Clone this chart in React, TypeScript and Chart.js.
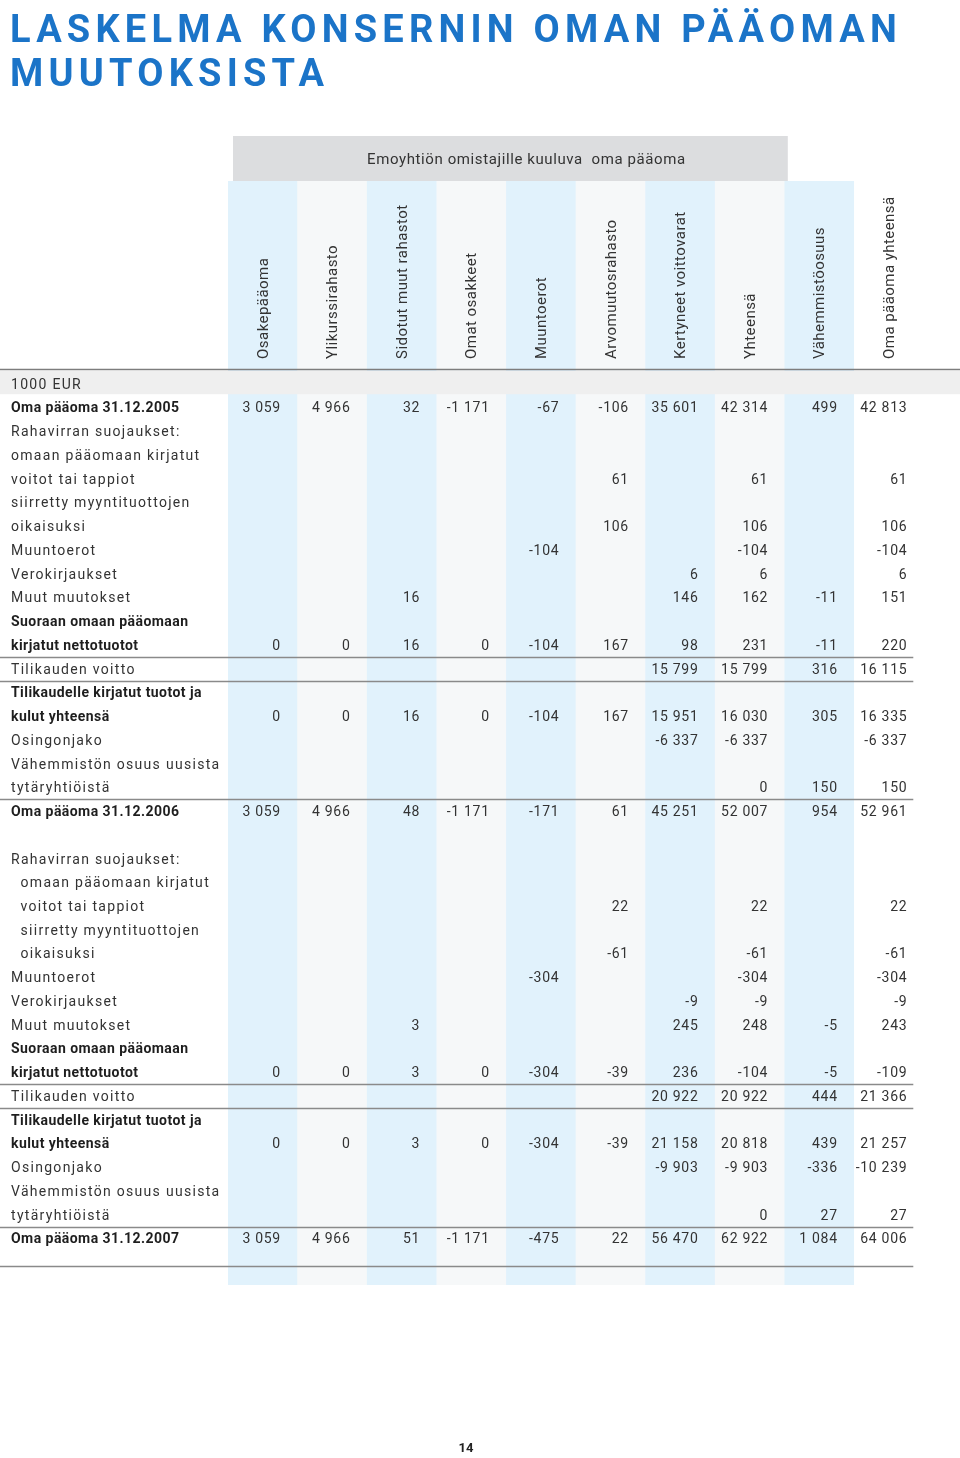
import React, { useEffect, useRef } from 'react';
import { Chart, registerables } from 'chart.js';

Chart.register(...registerables);

// ---------- text ----------
const TITLE_LINES = ['LASKELMA KONSERNIN OMAN PÄÄOMAN', 'MUUTOKSISTA'];
const GROUP_HEADER = 'Emoyhtiön omistajille kuuluva  oma pääoma';
const PAGE_NUMBER = '14';

// ---------- columns (categories) ----------
const COLUMNS = [
  'Osakepääoma',
  'Ylikurssirahasto',
  'Sidotut muut rahastot',
  'Omat osakkeet',
  'Muuntoerot',
  'Arvomuutosrahasto',
  'Kertyneet voittovarat',
  'Yhteensä',
  'Vähemmistöosuus',
  'Oma pääoma yhteensä',
];
const GROUP_COLUMNS = 8; // first 8 columns belong to the parent-company group

// ---------- rows ----------
const ROW_LABELS = [
  '1000 EUR',
  'Oma pääoma 31.12.2005',
  'Rahavirran suojaukset:',
  'omaan pääomaan kirjatut',
  'voitot tai tappiot',
  'siirretty myyntituottojen',
  'oikaisuksi',
  'Muuntoerot',
  'Verokirjaukset',
  'Muut muutokset',
  'Suoraan omaan pääomaan',
  'kirjatut nettotuotot',
  'Tilikauden voitto',
  'Tilikaudelle kirjatut tuotot ja',
  'kulut yhteensä',
  'Osingonjako',
  'Vähemmistön osuus uusista',
  'tytäryhtiöistä',
  'Oma pääoma 31.12.2006',
  '',
  'Rahavirran suojaukset:',
  '  omaan pääomaan kirjatut',
  '  voitot tai tappiot',
  '  siirretty myyntituottojen',
  '  oikaisuksi',
  'Muuntoerot',
  'Verokirjaukset',
  'Muut muutokset',
  'Suoraan omaan pääomaan',
  'kirjatut nettotuotot',
  'Tilikauden voitto',
  'Tilikaudelle kirjatut tuotot ja',
  'kulut yhteensä',
  'Osingonjako',
  'Vähemmistön osuus uusista',
  'tytäryhtiöistä',
  'Oma pääoma 31.12.2007',
  '',
];
const BOLD_ROWS = [1, 10, 11, 13, 14, 18, 28, 29, 31, 32, 36];
const RULES_AFTER_ROWS = [11, 12, 17, 29, 30, 35];

// ---------- series values (one per column, one entry per row) ----------
const _ = null;
const osakepaaoma = [
  _, 3059, _, _, _, _, _, _, _, _,
  _, 0, _, _, 0, _, _, _, 3059, _,
  _, _, _, _, _, _, _, _, _, 0,
  _, _, 0, _, _, _, 3059, _,
];
const ylikurssirahasto = [
  _, 4966, _, _, _, _, _, _, _, _,
  _, 0, _, _, 0, _, _, _, 4966, _,
  _, _, _, _, _, _, _, _, _, 0,
  _, _, 0, _, _, _, 4966, _,
];
const sidotutMuutRahastot = [
  _, 32, _, _, _, _, _, _, _, 16,
  _, 16, _, _, 16, _, _, _, 48, _,
  _, _, _, _, _, _, _, 3, _, 3,
  _, _, 3, _, _, _, 51, _,
];
const omatOsakkeet = [
  _, -1171, _, _, _, _, _, _, _, _,
  _, 0, _, _, 0, _, _, _, -1171, _,
  _, _, _, _, _, _, _, _, _, 0,
  _, _, 0, _, _, _, -1171, _,
];
const muuntoerot = [
  _, -67, _, _, _, _, _, -104, _, _,
  _, -104, _, _, -104, _, _, _, -171, _,
  _, _, _, _, _, -304, _, _, _, -304,
  _, _, -304, _, _, _, -475, _,
];
const arvomuutosrahasto = [
  _, -106, _, _, 61, _, 106, _, _, _,
  _, 167, _, _, 167, _, _, _, 61, _,
  _, _, 22, _, -61, _, _, _, _, -39,
  _, _, -39, _, _, _, 22, _,
];
const kertyneetVoittovarat = [
  _, 35601, _, _, _, _, _, _, 6, 146,
  _, 98, 15799, _, 15951, -6337, _, _, 45251, _,
  _, _, _, _, _, _, -9, 245, _, 236,
  20922, _, 21158, -9903, _, _, 56470, _,
];
const yhteensa = [
  _, 42314, _, _, 61, _, 106, -104, 6, 162,
  _, 231, 15799, _, 16030, -6337, _, 0, 52007, _,
  _, _, 22, _, -61, -304, -9, 248, _, -104,
  20922, _, 20818, -9903, _, 0, 62922, _,
];
const vahemmistoosuus = [
  _, 499, _, _, _, _, _, _, _, -11,
  _, -11, 316, _, 305, _, _, 150, 954, _,
  _, _, _, _, _, _, _, -5, _, -5,
  444, _, 439, -336, _, 27, 1084, _,
];
const omaPaaomaYhteensa = [
  _, 42813, _, _, 61, _, 106, -104, 6, 151,
  _, 220, 16115, _, 16335, -6337, _, 150, 52961, _,
  _, _, 22, _, -61, -304, -9, 243, _, -109,
  21366, _, 21257, -10239, _, 27, 64006, _,
];
const SERIES = [
  osakepaaoma,
  ylikurssirahasto,
  sidotutMuutRahastot,
  omatOsakkeet,
  muuntoerot,
  arvomuutosrahasto,
  kertyneetVoittovarat,
  yhteensa,
  vahemmistoosuus,
  omaPaaomaYhteensa,
];

// ---------- styles ----------
const FONT = 'Roboto, "Noto Sans", sans-serif';
const BLUE_STRIPE = '#e1f2fc';
const GRAY_STRIPE = '#f6f8f9';
const STRIPE_COLORS = COLUMNS.map((_c, i) =>
  i === COLUMNS.length - 1 ? '#ffffff' : i % 2 === 0 ? BLUE_STRIPE : GRAY_STRIPE
);
const TEXT = '#333333';
const BOLD_TEXT = '#1e1e1e';
const RULE = '#8a8a8a';
const TITLE_BLUE = '#1b74c8';

// y scale in "row units": row index i sits at value i
const Y_MIN = -8.6;
const Y_MAX = 37.9;

function fmt(n: number): string {
  const s = Math.abs(n)
    .toString()
    .replace(/\B(?=(\d{3})+(?!\d))/g, ' ');
  return (n < 0 ? '-' : '') + s;
}

const tablePlugin = {
  id: 'tableText',
  beforeDraw(chart: any) {
    const ctx = chart.ctx as any;
    const xs = chart.scales.x;
    const area = chart.chartArea;
    ctx.save();
    ctx.fillStyle = '#ffffff';
    ctx.fillRect(0, 0, chart.width, chart.height);

    // Title
    ctx.fillStyle = TITLE_BLUE;
    ctx.font = `bold 38px ${FONT}`;
    ctx.textAlign = 'left';
    ctx.textBaseline = 'alphabetic';
    ctx.letterSpacing = '0px';
    const w0 = ctx.measureText(TITLE_LINES[0]).width;
    const spacing = (892 - w0) / TITLE_LINES[0].length;
    ctx.letterSpacing = `${spacing}px`;
    ctx.fillText(TITLE_LINES[0], 10, 42);
    ctx.fillText(TITLE_LINES[1], 10, 86);

    // Group header box over the parent-company columns
    const half = (xs.getPixelForValue(1) - xs.getPixelForValue(0)) / 2;
    const gx0 = xs.getPixelForValue(0) - half;
    const gx1 = xs.getPixelForValue(GROUP_COLUMNS - 1) + half;
    ctx.fillStyle = '#dcdddf';
    ctx.fillRect(gx0 + 5, area.top - 45, gx1 - gx0 - 2, 45);
    ctx.fillStyle = TEXT;
    ctx.font = `15px ${FONT}`;
    ctx.letterSpacing = '0.6px';
    ctx.textAlign = 'center';
    ctx.textBaseline = 'middle';
    ctx.fillText(GROUP_HEADER, (gx0 + gx1) / 2 + 20, area.top - 21);

    // Page number
    ctx.font = `bold 13px ${FONT}`;
    ctx.letterSpacing = '0px';
    ctx.fillStyle = '#222';
    ctx.fillText(PAGE_NUMBER, 466, 1449);
    ctx.restore();
  },
  afterDatasetsDraw(chart: any) {
    const ctx = chart.ctx as any;
    const xs = chart.scales.x;
    const ys = chart.scales.y;
    const half = (xs.getPixelForValue(1) - xs.getPixelForValue(0)) / 2;
    const numOffset = half * 0.52;
    const ruleRight = xs.getPixelForValue(COLUMNS.length - 1) + numOffset + 6;
    ctx.save();

    // unit row band and top rule
    const bandTop = ys.getPixelForValue(-0.6);
    const bandBot = ys.getPixelForValue(0.38);
    ctx.fillStyle = '#efefef';
    ctx.fillRect(0, bandTop, chart.width, bandBot - bandTop);
    ctx.strokeStyle = '#7d7d7d';
    ctx.lineWidth = 1.5;
    ctx.beginPath();
    ctx.moveTo(0, bandTop - 1.5);
    ctx.lineTo(chart.width, bandTop - 1.5);
    ctx.stroke();

    // rotated column headers
    ctx.fillStyle = TEXT;
    ctx.font = `15px ${FONT}`;
    ctx.letterSpacing = '0.45px';
    ctx.textAlign = 'left';
    ctx.textBaseline = 'middle';
    COLUMNS.forEach((name, i) => {
      ctx.save();
      ctx.translate(xs.getPixelForValue(i) + 1, bandTop - 12);
      ctx.rotate(-Math.PI / 2);
      ctx.fillText(name, 0, 0);
      ctx.restore();
    });

    // separator rules
    ctx.strokeStyle = RULE;
    ctx.lineWidth = 1.5;
    const rules = RULES_AFTER_ROWS.map((r) => r + 0.45).concat([37.1]);
    rules.forEach((v) => {
      const y = Math.round(ys.getPixelForValue(v)) + 0.5;
      ctx.beginPath();
      ctx.moveTo(0, y);
      ctx.lineTo(ruleRight, y);
      ctx.stroke();
    });

    // row labels, placed by the y axis
    ctx.textAlign = 'left';
    ctx.textBaseline = 'middle';
    const labelX = ys.left;
    ROW_LABELS.forEach((label, r) => {
      if (!label) return;
      const bold = BOLD_ROWS.includes(r);
      ctx.font = `${bold ? 'bold ' : ''}14px ${FONT}`;
      ctx.letterSpacing = bold ? '0.45px' : '1.3px';
      ctx.fillStyle = bold ? BOLD_TEXT : TEXT;
      ctx.fillText(label, labelX, ys.getPixelForValue(r));
    });

    // numbers
    ctx.font = `14px ${FONT}`;
    ctx.letterSpacing = '0.7px';
    ctx.textAlign = 'right';
    ctx.textBaseline = 'middle';
    ctx.fillStyle = TEXT;
    SERIES.forEach((values, c) => {
      const x = xs.getPixelForValue(c) + numOffset;
      values.forEach((v, r) => {
        if (v === null || v === undefined) return;
        ctx.fillText(fmt(v), x, ys.getPixelForValue(r));
      });
    });
    ctx.restore();
  },
};

export default function App() {
  const ref = useRef<HTMLCanvasElement>(null);
  useEffect(() => {
    const canvas = ref.current;
    if (!canvas) return;
    const chart = new Chart(canvas, {
      type: 'bar',
      data: {
        labels: COLUMNS,
        datasets: [
          {
            label: 'columns',
            data: COLUMNS.map(() => [Y_MIN, Y_MAX]) as any,
            backgroundColor: STRIPE_COLORS,
            borderWidth: 0,
            barPercentage: 1,
            categoryPercentage: 1,
          },
        ],
      },
      options: {
        animation: false,
        responsive: false,
        events: [],
        layout: { padding: { left: 11, top: 181, right: 36, bottom: 173 } },
        plugins: {
          legend: { display: false },
          tooltip: { enabled: false },
          title: { display: false },
        },
        scales: {
          x: {
            type: 'category',
            display: false,
            offset: true,
            grid: { display: false },
          },
          y: {
            type: 'linear',
            reverse: true,
            min: Y_MIN,
            max: Y_MAX,
            afterFit: (s: any) => {
              s.width = 217;
            },
            afterBuildTicks: (s: any) => {
              s.ticks = ROW_LABELS.map((_l, i) => ({ value: i }));
            },
            grid: { display: false, drawTicks: false },
            border: { display: false },
            ticks: { display: false },
          },
        },
      } as any,
      plugins: [tablePlugin],
    });
    return () => chart.destroy();
  }, []);

  return (
    <div style={{ position: 'absolute', left: 0, top: 0, width: 960, height: 1458 }}>
      <canvas ref={ref} width={960} height={1458} style={{ width: 960, height: 1458, display: 'block' }} />
    </div>
  );
}
